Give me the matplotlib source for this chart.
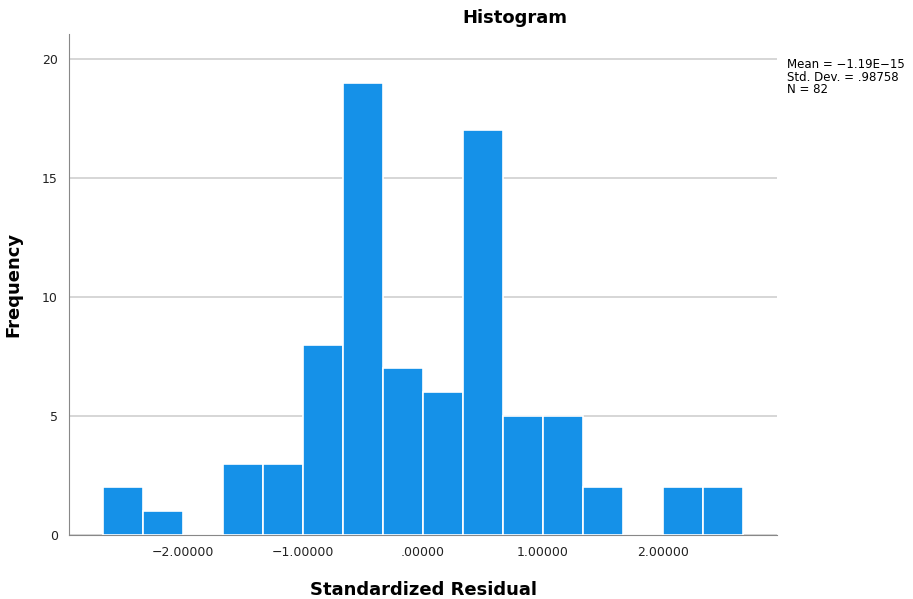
import numpy as np
import matplotlib
matplotlib.use("Agg")
import matplotlib.pyplot as plt
from matplotlib.ticker import FuncFormatter

# histogram bins of the standardized residuals (bin width 1/3)
bin_edges = np.linspace(-8 / 3, 8 / 3, 17)
counts = [2, 1, 0, 3, 3, 8, 19, 7, 6, 17, 5, 5, 2, 0, 2, 2]
x_ticks = [-2, -1, 0, 1, 2]
y_ticks = [0, 5, 10, 15, 20]
stats_lines = ["Mean = \u22121.19E\u221215", "Std. Dev. = .98758", "N = 82"]

plt.rcParams["font.family"] = ["DejaVu Sans"]

fig = plt.figure(figsize=(9.13, 5.99), dpi=100)
ax = fig.add_axes([0.0756, 0.1068, 0.7755, 0.8364])

ax.bar(bin_edges[:-1], counts, width=np.diff(bin_edges), align="edge",
       color="#1591e8", edgecolor="white", linewidth=1.2, zorder=3)

ax.set_xlim(-2.95, 2.95)
ax.set_ylim(0, 21.05)
ax.set_xticks(x_ticks)
ax.set_yticks(y_ticks)


def fmt(v, pos):
    s = f"{v:.5f}"
    if s.startswith("0"):
        s = s[1:]
    elif s.startswith("-0"):
        s = "-" + s[2:]
    return s.replace("-", "\u2212")


ax.xaxis.set_major_formatter(FuncFormatter(fmt))
ax.tick_params(axis="both", length=0, labelsize=9, colors="#222222", pad=8)
ax.yaxis.grid(True, color="#d0d0d0", linewidth=1.2, zorder=0)

for side in ["top", "right"]:
    ax.spines[side].set_visible(False)
ax.spines["left"].set_color("#888888")
ax.spines["bottom"].set_color("#888888")

ax.set_xlabel("Standardized Residual", fontsize=13, fontweight="bold", labelpad=16)
ax.set_ylabel("Frequency", fontsize=13, fontweight="bold", labelpad=14)

fig.text(0.564, 0.97, "Histogram", ha="center", va="center",
         fontsize=13, fontweight="bold")
fig.text(0.862, 0.903, "\n".join(stats_lines), ha="left", va="top",
         fontsize=8.5, linespacing=0.95)

fig.savefig("out.png", dpi=100)
